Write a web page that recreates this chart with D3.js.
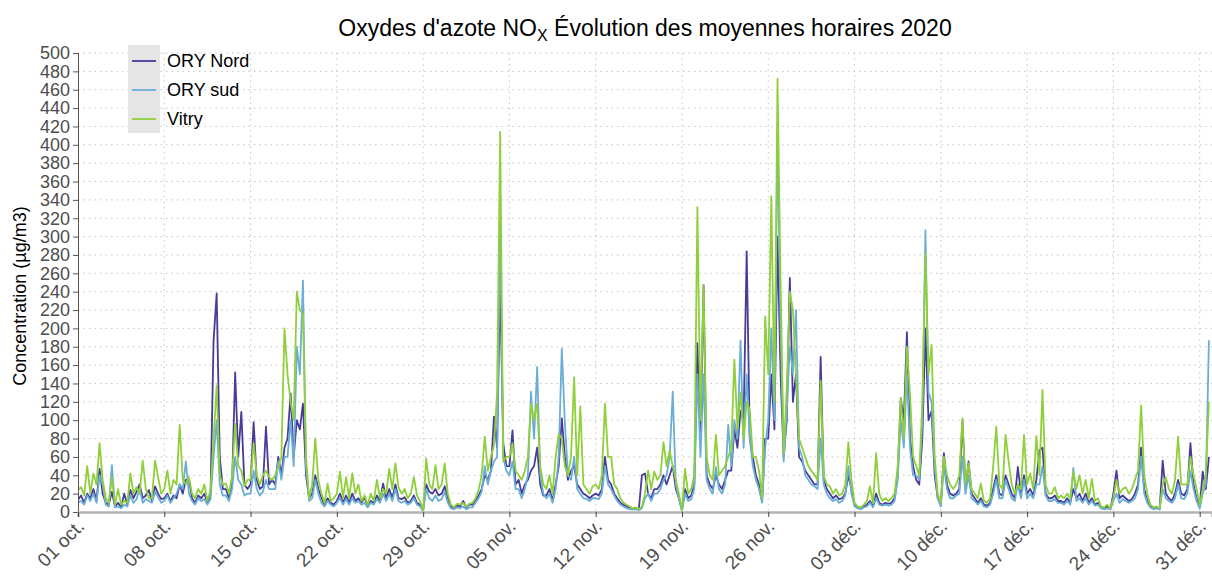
<!DOCTYPE html>
<html>
<head>
<meta charset="utf-8">
<script src="https://cdn.jsdelivr.net/npm/d3@7"></script>
<style>
  body { margin: 0; background: #fff; }
  svg { font-family: "Liberation Sans", Arial, sans-serif; }
</style>
</head>
<body>
<div id="chart"></div>
<script>
// hourly NOx means, every 6 hours (00h, 06h, 12h, 18h), 01 oct -> 31 dec 2020
let oryNord = [
  13,18,10,20, 15,25,12,47, 20,10,8,22, 6,10,5,20, 8,24,15,22, 30,15,18,24, 12,28,20,14, 15,20,12,18,
  15,30,20,35, 36,15,10,18, 15,20,10,18, 187,238,60,25, 25,15,30,152, 60,109,30,25, 30,98,35,25, 28,93,30,35,
  30,60,40,70, 80,129,60,100, 90,118,40,15, 20,40,25,15, 8,15,10,8, 12,20,10,18, 10,20,12,15, 10,16,6,12,
  10,18,12,31, 15,25,15,30, 15,14,16,10, 12,18,10,8, 2,30,22,20, 25,18,20,28, 15,6,4,7, 6,12,5,8,
  8,12,18,25, 40,35,45,104, 70,250,75,50, 50,89,30,35, 20,30,35,45, 50,70,30,18, 18,25,12,30, 50,102,60,35,
  45,50,30,25, 20,18,15,18, 20,18,25,60, 35,30,20,15, 10,8,6,5, 3,4,3,40, 42,20,15,25, 25,30,40,30,
  40,50,25,15, 2,25,15,18, 30,184,80,247, 40,30,25,40, 30,25,35,45, 45,90,70,110, 100,284,80,60, 40,30,12,80,
  80,150,90,300, 150,60,100,255, 120,150,60,55, 45,40,35,30, 30,169,35,25, 20,15,18,14, 15,20,40,25, 8,5,4,6,
  8,12,6,20, 10,8,10,9, 10,15,40,124, 100,196,80,50, 35,30,80,200, 100,110,40,15, 8,64,30,20, 18,20,25,100,
  25,55,20,15, 10,15,8,7, 10,25,40,20, 18,40,30,20, 15,49,20,40, 20,25,18,35, 67,70,20,15, 15,18,12,12,
  10,15,10,25, 15,20,12,20, 10,15,8,10, 5,4,6,3, 20,45,15,18, 15,12,14,20, 30,70,25,12, 6,4,5,3,
  56,20,15,12, 20,35,20,18, 25,75,30,15, 5,44,25,60
];

let orySud = [
  10,12,8,18, 12,20,10,40, 30,8,6,51, 5,6,4,8, 6,18,10,14, 25,10,14,12, 10,22,16,10, 12,18,10,15,
  20,30,25,55, 20,12,8,15, 12,14,8,14, 60,100,30,18, 18,12,25,60, 35,30,18,20, 20,45,25,18, 22,35,25,25,
  25,55,35,60, 60,100,50,180, 150,252,50,12, 15,35,20,10, 6,12,8,6, 10,15,8,14, 8,15,10,12, 8,10,5,10,
  8,14,10,20, 12,20,12,25, 12,10,12,8, 10,15,8,6, 1,25,15,12, 18,12,14,22, 10,4,3,5, 4,6,3,5,
  5,10,15,22, 50,30,45,55, 60,320,60,45, 40,55,25,25, 15,25,40,131, 80,158,40,20, 15,20,10,25, 60,178,97,40,
  35,60,25,20, 15,14,12,15, 15,14,20,50, 30,25,18,12, 8,6,4,3, 3,3,2,4, 15,20,12,20, 20,25,35,40,
  60,131,30,15, 1,20,12,14, 25,150,60,150, 35,25,20,49, 25,20,30,95, 50,100,80,187, 70,150,80,50, 35,25,10,70,
  100,200,100,413, 200,55,110,180, 150,220,70,60, 40,35,30,28, 25,80,30,20, 15,12,14,10, 12,18,50,20, 6,4,3,5,
  6,10,5,15, 8,7,8,7, 8,12,35,100, 70,150,70,40, 40,35,100,307, 130,120,50,15, 6,50,25,15, 15,18,20,60,
  20,40,15,12, 8,12,6,5, 8,20,35,15, 15,35,25,15, 12,30,15,35, 15,20,15,30, 30,50,18,12, 12,14,10,10,
  8,12,8,48, 12,15,10,15, 8,12,7,8, 4,3,4,3, 12,20,10,14, 12,10,12,15, 25,60,20,10, 5,3,4,3,
  25,15,12,10, 15,30,15,14, 20,45,25,12, 4,20,30,187
];

let vitry = [
  24,27,18,50, 20,42,30,75, 35,15,10,38, 8,25,8,12, 10,42,20,27, 20,56,25,15, 15,56,38,20, 25,45,20,35,
  30,95,35,30, 38,20,15,25, 20,30,12,24, 80,138,40,30, 31,20,40,96, 50,45,28,35, 35,75,40,30, 40,45,38,35,
  40,50,60,200, 150,120,100,240, 220,215,60,15, 30,80,35,20, 10,31,12,15, 20,44,15,38, 15,42,20,30, 12,18,8,20,
  12,35,15,25, 20,47,25,53, 27,20,25,15, 20,38,18,12, 2,58,30,25, 51,25,30,53, 20,8,5,9, 8,10,6,9,
  10,15,24,40, 82,45,60,73, 130,414,55,60, 60,75,45,40, 35,45,60,118, 100,118,50,30, 25,40,20,60, 85,80,50,40,
  60,147,40,115, 30,25,20,28, 30,25,40,118, 60,60,30,25, 15,10,8,6, 4,5,3,6, 20,45,25,44, 35,40,76,50,
  67,50,35,20, 2,47,20,25, 40,332,100,247, 60,40,35,84, 40,45,50,60, 70,166,90,130, 80,120,111,60, 60,45,15,213,
  150,344,120,472, 250,64,136,240, 220,150,80,70, 60,50,45,40, 35,143,40,30, 28,20,25,18, 20,30,76,35, 10,6,5,8,
  12,28,10,64, 20,12,15,12, 15,20,50,124, 80,180,128,60, 50,40,120,282, 150,182,60,20, 10,60,40,30, 25,30,40,102,
  30,53,25,20, 15,31,12,10, 15,50,93,30, 25,84,55,30, 20,30,25,84, 30,42,25,83, 40,133,30,20, 20,27,15,18,
  15,20,15,44, 25,40,20,35, 15,36,12,15, 6,5,8,4, 15,35,20,25, 27,20,25,35, 45,116,40,20, 8,5,6,4,
  30,38,25,20, 35,82,30,30, 30,60,40,25, 8,25,40,120
];

let seriesNames = ["ORY Nord", "ORY sud", "Vitry"];
let seriesColors = ["#473c98", "#6aaed6", "#8fcf3a"];
let xTickLabels = ["01 oct.", "08 oct.", "15 oct.", "22 oct.", "29 oct.", "05 nov.", "12 nov.",
  "19 nov.", "26 nov.", "03 déc.", "10 déc.", "17 déc.", "24 déc.", "31 déc."];
let yTicks = d3.range(0, 501, 20);

let svgWidth = 1212;
let svgHeight = 578;
let margin = { top: 53, right: 0, bottom: 66, left: 78 };
let width = svgWidth - margin.left - margin.right;
let height = svgHeight - margin.top - margin.bottom;

let startDate = new Date(Date.UTC(2020, 9, 1));
let endDate = new Date(Date.UTC(2021, 0, 1));

let svg = d3.select("#chart").append("svg")
  .attr("width", svgWidth)
  .attr("height", svgHeight);

let chartGroup = svg.append("g")
  .attr("transform", `translate(${margin.left}, ${margin.top})`);

let x = d3.scaleUtc().domain([startDate, endDate]).range([0, width]);
let y = d3.scaleLinear().domain([0, 500]).range([height, 0]);

let weekTicks = xTickLabels.map((d, i) => d3.utcDay.offset(startDate, i * 7));

// dotted grid
chartGroup.append("g").selectAll("line")
  .data(yTicks.slice(1))
  .enter().append("line")
  .attr("x1", 0).attr("x2", width)
  .attr("y1", d => y(d)).attr("y2", d => y(d))
  .attr("stroke", "#c4c4c4")
  .attr("stroke-width", 1)
  .attr("stroke-dasharray", "1.5,4");

chartGroup.append("g").selectAll("line")
  .data(weekTicks.slice(1))
  .enter().append("line")
  .attr("x1", d => x(d)).attr("x2", d => x(d))
  .attr("y1", 0).attr("y2", height)
  .attr("stroke", "#c4c4c4")
  .attr("stroke-width", 1)
  .attr("stroke-dasharray", "1.5,4");

// lines
svg.append("clipPath").attr("id", "plot-clip")
  .append("rect").attr("x", 0).attr("y", -10).attr("width", width).attr("height", height + 10);

let allSeries = [oryNord, orySud, vitry];
let line = d3.line()
  .x((d, i) => x(d3.utcHour.offset(startDate, i * 6)))
  .y(d => y(d));

chartGroup.append("g")
  .attr("clip-path", "url(#plot-clip)")
  .selectAll("path")
  .data(allSeries)
  .enter().append("path")
  .attr("d", d => line(d))
  .attr("fill", "none")
  .attr("stroke", (d, i) => seriesColors[i])
  .attr("stroke-width", 1.8)
  .attr("stroke-linejoin", "round");

// axes
let leftAxis = d3.axisLeft(y).tickValues(yTicks).tickSize(5).tickPadding(3);
let yAxis = chartGroup.append("g").call(leftAxis);
yAxis.select(".domain").attr("stroke", "#555");
yAxis.selectAll(".tick line").attr("stroke", "#555");
yAxis.selectAll(".tick text")
  .attr("font-size", 18)
  .attr("fill", "#4d4d4d")
  .attr("font-family", "Liberation Sans, Arial, sans-serif");

let bottomAxis = d3.axisBottom(x).tickValues(weekTicks).tickSize(5).tickFormat("");
let xAxis = chartGroup.append("g")
  .attr("transform", `translate(0, ${height})`)
  .call(bottomAxis);
xAxis.select(".domain").attr("stroke", "#b3b3b3").attr("stroke-width", 2.5);
xAxis.selectAll(".tick line").attr("stroke", "#444");

chartGroup.append("g").selectAll("text")
  .data(weekTicks)
  .enter().append("text")
  .attr("transform", d => `translate(${x(d) - 2}, ${height + 6}) rotate(-45)`)
  .attr("dy", "0.71em")
  .attr("text-anchor", "end")
  .attr("font-size", 19)
  .attr("fill", "#4d4d4d")
  .text((d, i) => xTickLabels[i]);

// y axis title
svg.append("text")
  .attr("transform", "rotate(-90)")
  .attr("x", -296)
  .attr("y", 26)
  .attr("text-anchor", "middle")
  .attr("font-size", 18)
  .attr("fill", "#000")
  .text("Concentration (µg/m3)");

// title
let title = svg.append("text")
  .attr("x", 645)
  .attr("y", 36)
  .attr("text-anchor", "middle")
  .attr("font-size", 23)
  .attr("fill", "#000");
title.append("tspan").text("Oxydes d'azote NO");
title.append("tspan").attr("font-size", 16).attr("dy", 5).text("X");
title.append("tspan").attr("dy", -5).text(" Évolution des moyennes horaires 2020");

// legend
let legend = svg.append("g").attr("transform", "translate(128, 45)");
legend.append("rect")
  .attr("width", 32).attr("height", 88)
  .attr("fill", "#e5e5e5");
let legendItems = legend.selectAll(".item")
  .data(seriesNames)
  .enter().append("g")
  .attr("transform", (d, i) => `translate(0, ${16 + i * 29})`);
legendItems.append("line")
  .attr("x1", 4).attr("x2", 28)
  .attr("stroke", (d, i) => seriesColors[i])
  .attr("stroke-width", 1.8);
legendItems.append("text")
  .attr("x", 39)
  .attr("dy", "0.35em")
  .attr("font-size", 18)
  .attr("fill", "#000")
  .text(d => d);
</script>
</body>
</html>
